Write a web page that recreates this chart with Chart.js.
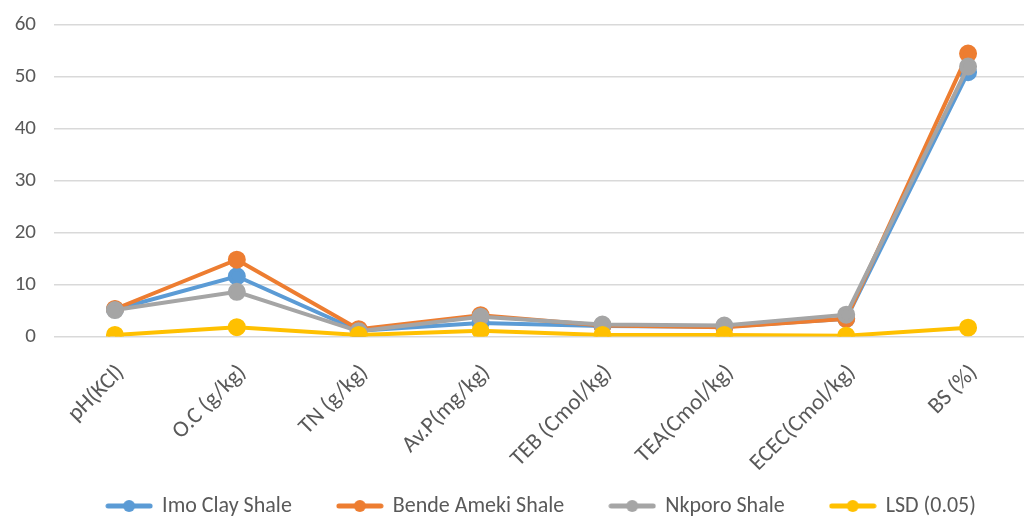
<!DOCTYPE html>
<html><head><meta charset="utf-8">
<script src="https://cdn.jsdelivr.net/npm/chart.js@4/dist/chart.umd.min.js"></script>
<style>
html,body{margin:0;padding:0;background:#fff;overflow:hidden;}
#wrap{width:1040px;height:518px;position:relative;}
</style></head><body>
<div id="wrap"><canvas id="c"></canvas></div>
<script>
const categories = ["pH(KCl)", "O.C (g/kg)", "TN (g/kg)", "Av.P(mg/kg)", "TEB (Cmol/kg)", "TEA(Cmol/kg)", "ECEC(Cmol/kg)", "BS (%)"];
const imoClayShale    = [5.2, 11.6, 1.1, 2.6, 2.0, 1.9, 3.4, 50.9];
const bendeAmekiShale = [5.3, 14.8, 1.4, 4.1, 2.1, 1.8, 3.4, 54.5];
const nkporoShale     = [5.1, 8.6, 1.0, 3.8, 2.3, 2.1, 4.2, 52.0];
const lsd005          = [0.3, 1.8, 0.3, 1.1, 0.3, 0.3, 0.15, 1.7];
const yTicks = [0, 10, 20, 30, 40, 50, 60];

const FONT = "Carlito, Lato, sans-serif";
const colors = ["#5b9bd5", "#ed7d31", "#a5a5a5", "#ffc000"];

function legendIcon(color){
  const cv = document.createElement('canvas');
  cv.width = 48; cv.height = 14;
  const g = cv.getContext('2d');
  g.strokeStyle = color; g.lineWidth = 5; g.lineCap = 'round';
  g.beginPath(); g.moveTo(3,7); g.lineTo(45,7); g.stroke();
  g.fillStyle = color; g.beginPath(); g.arc(24,7,6,0,Math.PI*2); g.fill();
  return cv;
}

function ds(label, data, i, order){
  return {label, data, borderColor: colors[i], backgroundColor: colors[i],
    pointBackgroundColor: colors[i], pointBorderColor: colors[i],
    borderWidth: 4, pointRadius: 7, pointHoverRadius: 7, tension: 0, order};
}

const legendShift = {
  id: 'legendShift',
  afterLayout(chart){ chart.legend.top += 9; chart.legend.bottom += 9; }
};

new Chart(document.getElementById('c'), {
  type: 'line',
  plugins: [legendShift],
  data: {
    labels: categories,
    datasets: [
      ds("Imo Clay Shale", imoClayShale, 0, 4),
      ds("Bende Ameki Shale", bendeAmekiShale, 1, 3),
      ds("Nkporo Shale", nkporoShale, 2, 2),
      ds("LSD (0.05)", lsd005, 3, 1)
    ]
  },
  options: {
    responsive: true, maintainAspectRatio: false, animation: false,
    layout: {padding: {top: 25, left: 0, right: 5, bottom: 0}},
    plugins: {
      tooltip: {enabled: false},
      legend: {
        position: 'bottom', fullSize: false,
        labels: {
          usePointStyle: true, pointStyleWidth: 44, boxHeight: 14,
          color: '#595959', font: {family: FONT, size: 22}, padding: 2,
          sort: (a,b) => a.datasetIndex - b.datasetIndex,
          generateLabels: (chart) => chart.data.datasets.map((d, i, arr) => ({
            text: d.label + (i < arr.length - 1 ? '\u2003\u2003' : ''),
            datasetIndex: i, pointStyle: legendIcon(d.borderColor),
            fillStyle: d.borderColor, strokeStyle: d.borderColor, lineWidth: 0, hidden: false,
            fontColor: '#595959'
          }))
        }
      }
    },
    scales: {
      x: {
        offset: true,
        grid: {display: false},
        border: {display: false},
        ticks: {color: '#595959', font: {family: FONT, size: 23}, maxRotation: 45, minRotation: 45, padding: 15, labelOffset: 6, autoSkip: false},
        afterFit: (s) => { s.height = 147.5; }
      },
      y: {
        min: 0, max: 60,
        afterBuildTicks: (s) => { s.ticks = yTicks.map(v => ({value: v})); },
        grid: {color: '#d9d9d9', lineWidth: 1.5, drawTicks: false},
        border: {display: false},
        ticks: {color: '#595959', font: {family: FONT, size: 21}, padding: 18},
        afterFit: (s) => { s.width = 54; s.paddingTop = 0; s.paddingBottom = 0; }
      }
    }
  }
});
</script>
</body></html>
